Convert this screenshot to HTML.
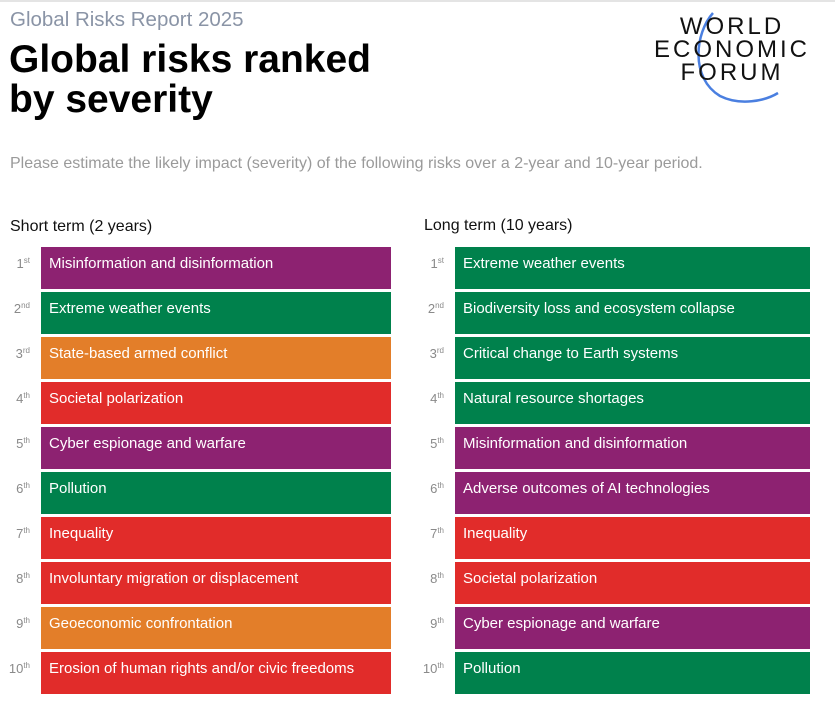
<!DOCTYPE html>
<html><head><meta charset="utf-8"><style>
body{margin:0;width:835px;height:703px;background:#fff;font-family:"Liberation Sans",sans-serif;position:relative;overflow:hidden}
.abs{position:absolute;white-space:nowrap}
.rank{position:absolute;width:30px;text-align:right;color:#8a8a8a;font-size:13px}
.rank sup{font-size:8px;vertical-align:5px}
.bar{position:absolute;height:42px;color:#fff;font-size:15px;line-height:34px;padding-left:8px;box-sizing:border-box}
</style></head><body>
<div class="abs" style="left:0;top:0;width:835px;height:2px;background:#e4e4e4"></div>
<div class="abs" style="left:10px;top:8px;font-size:20.5px;color:#8a94a6">Global Risks Report 2025</div>
<div class="abs" style="left:9px;top:40px;font-size:39px;line-height:40px;color:#000;font-weight:bold;letter-spacing:0px">Global risks ranked<br>by severity</div>
<div class="abs" style="left:10px;top:155px;font-size:16px;color:#9a9a9a">Please estimate the likely impact (severity) of the following risks over a 2-year and 10-year period.</div>
<svg class="abs" style="left:650px;top:8px" width="170" height="100">
<path d="M63 5 C 45 25, 40 70, 70 88 C 90 98, 115 93, 128 85" fill="none" stroke="#4a7fe0" stroke-width="2.5"/>
<g font-family="Liberation Sans" font-size="24" fill="#111" text-anchor="middle" letter-spacing="3">
<text x="82" y="26">WORLD</text><text x="82" y="49">ECONOMIC</text><text x="82" y="72">FORUM</text></g></svg>
<div class="abs" style="left:10px;top:218px;font-size:16px;color:#111">Short term (2 years)</div>
<div class="abs" style="left:424px;top:217px;font-size:16px;color:#111">Long term (10 years)</div>
<div id="rows"></div>
<script>
const shortLabels=["Misinformation and disinformation","Extreme weather events","State-based armed conflict","Societal polarization","Cyber espionage and warfare","Pollution","Inequality","Involuntary migration or displacement","Geoeconomic confrontation","Erosion of human rights and/or civic freedoms"];
const shortCats=["tech","env","geo","soc","tech","env","soc","soc","geo","soc"];
const longLabels=["Extreme weather events","Biodiversity loss and ecosystem collapse","Critical change to Earth systems","Natural resource shortages","Misinformation and disinformation","Adverse outcomes of AI technologies","Inequality","Societal polarization","Cyber espionage and warfare","Pollution"];
const longCats=["env","env","env","env","tech","tech","soc","soc","tech","env"];
const colors={tech:"#8d2271",env:"#00814c",geo:"#e37e29",soc:"#e12c2a"};
const suf=["st","nd","rd","th","th","th","th","th","th","th"];
const root=document.getElementById('rows');
function col(labels,cats,x0,w,side){
 labels.forEach((t,i)=>{
  const y=247+i*45;
  const r=document.createElement('div');r.className='rank';
  r.style.left=(x0-41)+'px';r.style.top=(y+9)+'px';
  r.innerHTML=(i+1)+'<sup>'+suf[i]+'</sup>';
  
  
  root.appendChild(r);
  const b=document.createElement('div');b.className='bar';
  b.style.left=x0+'px';b.style.top=y+'px';b.style.width=w+'px';
  b.style.background=colors[cats[i]];b.textContent=t;
  
  
  root.appendChild(b);
 });
}
col(shortLabels,shortCats,41,350,'short-term');
col(longLabels,longCats,455,355,'long-term');
</script>
</body></html>
